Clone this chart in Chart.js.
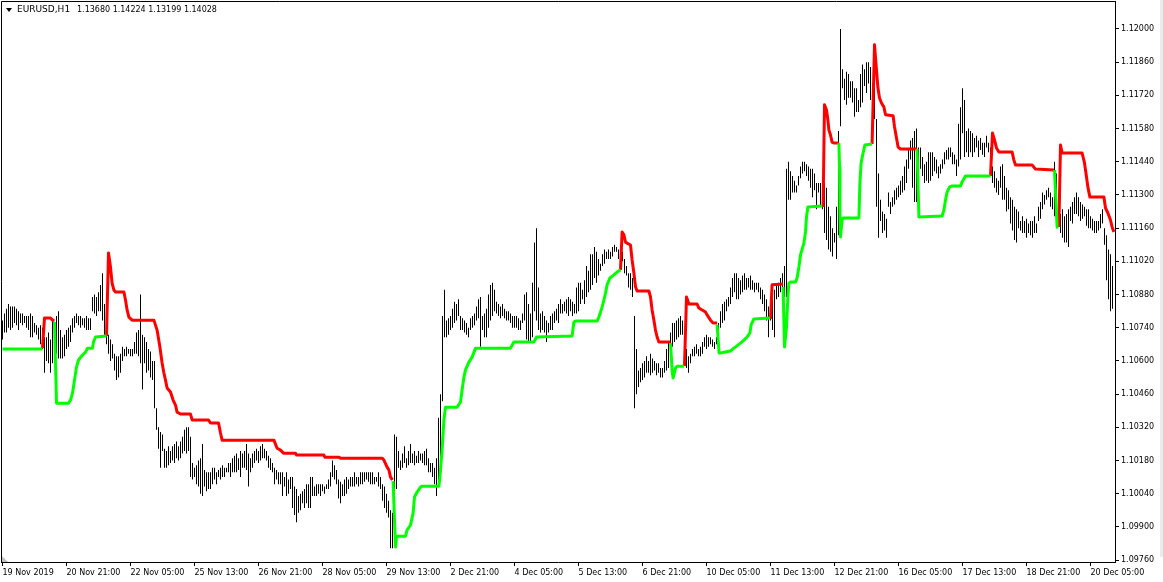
<!DOCTYPE html>
<html>
<head>
<meta charset="utf-8">
<script src="https://cdn.jsdelivr.net/npm/chart.js@4.4.1/dist/chart.umd.min.js"></script>
<style>
  body { margin: 0; background: #fff; }
  canvas { display: block; }
</style>
</head>
<body>
<canvas id="chart" width="1163" height="582"></canvas>
<script>
const symbolName = "EURUSD,H1";
const quoteText = "1.13680 1.14224 1.13199 1.14028";

const timeLabels = ["19 Nov 2019", "20 Nov 21:00", "22 Nov 05:00", "25 Nov 13:00", "26 Nov 21:00",
  "28 Nov 05:00", "29 Nov 13:00", "2 Dec 21:00", "4 Dec 05:00", "5 Dec 13:00", "6 Dec 21:00",
  "10 Dec 05:00", "11 Dec 13:00", "12 Dec 21:00", "16 Dec 05:00", "17 Dec 13:00", "18 Dec 21:00",
  "20 Dec 05:00"];
const barsPerLabel = 32;

const priceTicks = [1.0976, 1.0990, 1.1004, 1.1018, 1.1032, 1.1046, 1.1060, 1.1074, 1.1088,
  1.1102, 1.1116, 1.1130, 1.1144, 1.1158, 1.1172, 1.1186, 1.1200];

// H1 bars, high / low
const highs = [
  1.1077,1.1080,1.1082,1.1084,1.1083,1.1083,1.1083,1.1082,1.1081,1.1080,
  1.1080,1.1079,1.1079,1.1079,1.1080,1.1079,1.1076,1.1075,1.1074,1.1075,
  1.1074,1.1070,1.1070,1.1072,1.1069,1.1077,1.1073,1.1079,1.1081,1.1073,
  1.1070,1.1071,1.1073,1.1074,1.1075,1.1078,1.1079,1.1080,1.1079,1.1079,
  1.1078,1.1078,1.1079,1.1078,1.1078,1.1087,1.1088,1.1087,1.1089,1.1092,
  1.1097,1.1084,1.1084,1.1071,1.1069,1.1067,1.1063,1.1062,1.1062,1.1063,
  1.1066,1.1065,1.1066,1.1065,1.1065,1.1065,1.1068,1.1072,1.1073,1.1088,
  1.1071,1.1070,1.1068,1.1065,1.1064,1.1060,1.1060,1.1040,1.1032,1.1030,
  1.1029,1.1023,1.1022,1.1024,1.1022,1.1024,1.1025,1.1026,1.1024,1.1026,
  1.1028,1.1031,1.1032,1.1032,1.1028,1.1017,1.1015,1.1016,1.1018,1.1019,
  1.1025,1.1014,1.1013,1.1013,1.1013,1.1015,1.1015,1.1013,1.1014,1.1015,
  1.1016,1.1015,1.1015,1.1017,1.1017,1.1019,1.1020,1.1021,1.1019,1.1022,
  1.1021,1.1022,1.1025,1.1021,1.1019,1.1021,1.1022,1.1023,1.1022,1.1024,
  1.1025,1.1023,1.1022,1.1020,1.1019,1.1017,1.1015,1.1014,1.1013,1.1013,
  1.1013,1.1011,1.1013,1.1010,1.1011,1.1011,1.1007,1.1006,1.1003,1.1004,
  1.1005,1.1006,1.1008,1.1008,1.1011,1.1011,1.1007,1.1008,1.1008,1.1008,
  1.1008,1.1007,1.1008,1.1010,1.1013,1.1018,1.1016,1.1014,1.1010,1.1009,
  1.1008,1.1010,1.1011,1.1010,1.1011,1.1011,1.1013,1.1011,1.1011,1.1013,
  1.1013,1.1013,1.1013,1.1013,1.1013,1.1013,1.1011,1.1011,1.1013,1.1011,
  1.1008,1.1007,1.1004,1.1001,1.0997,1.0996,1.1029,1.1028,1.1022,1.1018,
  1.1021,1.1024,1.1019,1.1022,1.1025,1.1021,1.1022,1.1020,1.1022,1.1021,
  1.1021,1.1022,1.1023,1.1019,1.1017,1.1017,1.1015,1.1019,1.1036,1.1046,
  1.1079,1.1090,1.1077,1.1078,1.1079,1.1082,1.1085,1.1084,1.1086,1.1079,
  1.1078,1.1077,1.1076,1.1074,1.1078,1.1079,1.1080,1.1083,1.1086,1.1087,
  1.1079,1.1080,1.1082,1.1088,1.1092,1.1093,1.1090,1.1085,1.1084,1.1083,
  1.1084,1.1082,1.1081,1.1081,1.1080,1.1079,1.1079,1.1079,1.1078,1.1077,
  1.1080,1.1088,1.1089,1.1084,1.1080,1.1093,1.1110,1.1116,1.1091,1.1080,
  1.1081,1.1079,1.1077,1.1076,1.1079,1.1080,1.1081,1.1082,1.1084,1.1086,
  1.1084,1.1085,1.1086,1.1087,1.1086,1.1085,1.1084,1.1091,1.1093,1.1093,
  1.1090,1.1094,1.1100,1.1098,1.1105,1.1105,1.1108,1.1106,1.1103,1.1101,
  1.1105,1.1107,1.1106,1.1107,1.1106,1.1108,1.1109,1.1108,1.1107,1.1107,
  1.1106,1.1103,1.1100,1.1097,1.1097,1.1095,1.1079,1.1065,1.1056,1.1057,
  1.1059,1.1060,1.1062,1.1060,1.1063,1.1061,1.1060,1.1059,1.1059,1.1057,
  1.1057,1.1060,1.1065,1.1068,1.1072,1.1076,1.1076,1.1077,1.1078,1.1079,
  1.1077,1.1072,1.1065,1.1062,1.1063,1.1065,1.1066,1.1067,1.1065,1.1066,
  1.1068,1.1070,1.1071,1.1070,1.1070,1.1069,1.1068,1.1070,1.1076,1.1081,
  1.1084,1.1085,1.1086,1.1087,1.1091,1.1095,1.1097,1.1097,1.1095,1.1094,
  1.1096,1.1097,1.1095,1.1095,1.1096,1.1094,1.1093,1.1093,1.1093,1.1091,
  1.1090,1.1088,1.1086,1.1083,1.1081,1.1086,1.1090,1.1092,1.1093,1.1095,
  1.1097,1.1100,1.1141,1.1144,1.1140,1.1138,1.1136,1.1134,1.1138,1.1142,
  1.1144,1.1144,1.1143,1.1142,1.1141,1.1141,1.1139,1.1135,1.1135,1.1135,
  1.1136,1.1135,1.1133,1.1125,1.1121,1.1116,1.1114,1.1125,1.1157,1.1200,
  1.1183,1.1179,1.1182,1.1181,1.1178,1.1178,1.1175,1.1175,1.1170,1.1181,
  1.1185,1.1183,1.1186,1.1186,1.1184,1.1177,1.1183,1.1162,1.1139,1.1128,
  1.1123,1.1122,1.1120,1.1131,1.1127,1.1129,1.1132,1.1133,1.1134,1.1136,
  1.1138,1.1142,1.1145,1.1149,1.1153,1.1154,1.1157,1.1158,1.1150,1.1150,
  1.1146,1.1143,1.1144,1.1148,1.1148,1.1148,1.1146,1.1145,1.1142,1.1143,
  1.1145,1.1148,1.1149,1.1150,1.1150,1.1148,1.1147,1.1145,1.1160,1.1167,
  1.1175,1.1170,1.1157,1.1158,1.1157,1.1156,1.1154,1.1155,1.1153,1.1154,
  1.1152,1.1152,1.1155,1.1152,1.1150,1.1142,1.1140,1.1137,1.1136,1.1142,
  1.1143,1.1138,1.1133,1.1132,1.1129,1.1128,1.1125,1.1124,1.1123,1.1119,
  1.1121,1.1119,1.1120,1.1118,1.1119,1.1119,1.1121,1.1118,1.1125,1.1127,
  1.1131,1.1130,1.1132,1.1133,1.1131,1.1129,1.1144,1.1139,1.1124,1.1122,
  1.1124,1.1121,1.1122,1.1124,1.1125,1.1127,1.1129,1.1131,1.1129,1.1127,
  1.1126,1.1125,1.1124,1.1124,1.1121,1.1120,1.1119,1.1119,1.1119,1.1122,
  1.1124,1.1116,1.1113,1.1107,1.1105,1.1100
];
const lows = [
  1.1069,1.1072,1.1072,1.1074,1.1073,1.1074,1.1076,1.1075,1.1073,1.1076,
  1.1075,1.1076,1.1074,1.1073,1.1070,1.1070,1.1072,1.1071,1.1069,1.1067,
  1.1065,1.1055,1.1060,1.1059,1.1055,1.1059,1.1068,1.1063,1.1061,1.1061,
  1.1061,1.1062,1.1065,1.1066,1.1068,1.1072,1.1074,1.1076,1.1075,1.1074,
  1.1075,1.1074,1.1073,1.1073,1.1073,1.1081,1.1080,1.1079,1.1081,1.1081,
  1.1077,1.1071,1.1067,1.1063,1.1060,1.1061,1.1056,1.1052,1.1053,1.1055,
  1.1060,1.1062,1.1062,1.1063,1.1062,1.1062,1.1063,1.1063,1.1062,1.1059,
  1.1048,1.1059,1.1055,1.1056,1.1053,1.1052,1.1040,1.1031,1.1023,1.1015,
  1.1022,1.1015,1.1015,1.1016,1.1017,1.1018,1.1017,1.1019,1.1018,1.1019,
  1.1021,1.1022,1.1021,1.1022,1.1011,1.1010,1.1011,1.1008,1.1007,1.1004,
  1.1003,1.1007,1.1005,1.1006,1.1006,1.1008,1.1010,1.1008,1.1011,1.1010,
  1.1011,1.1011,1.1013,1.1013,1.1011,1.1013,1.1013,1.1013,1.1014,1.1011,
  1.1015,1.1015,1.1014,1.1007,1.1013,1.1015,1.1017,1.1018,1.1017,1.1018,
  1.1019,1.1019,1.1018,1.1015,1.1014,1.1013,1.1008,1.1010,1.1008,1.1008,
  1.1003,1.1007,1.1003,1.1004,1.1006,1.0998,1.0995,1.0992,1.0996,1.0997,
  1.1000,1.0998,1.1000,1.0998,1.0998,1.1003,1.1003,1.1003,1.1004,1.1003,
  1.1005,1.1004,1.1006,1.1006,1.1007,1.1011,1.1010,1.1008,1.1002,1.1000,
  1.1003,1.1003,1.1004,1.1006,1.1007,1.1007,1.1007,1.1008,1.1007,1.1008,
  1.1008,1.1009,1.1010,1.1009,1.1008,1.1008,1.1008,1.1009,1.1007,1.1006,
  1.1001,1.0998,1.0996,1.0994,1.0981,1.0981,1.1003,1.1006,1.1015,1.1014,
  1.1015,1.1017,1.1015,1.1016,1.1017,1.1017,1.1016,1.1017,1.1017,1.1018,
  1.1017,1.1016,1.1016,1.1013,1.1013,1.1011,1.1008,1.1003,1.1008,1.1011,
  1.1043,1.1070,1.1070,1.1071,1.1073,1.1074,1.1076,1.1077,1.1079,1.1073,
  1.1073,1.1072,1.1071,1.1070,1.1073,1.1074,1.1075,1.1077,1.1078,1.1066,
  1.1073,1.1070,1.1070,1.1074,1.1077,1.1079,1.1081,1.1080,1.1079,1.1078,
  1.1079,1.1078,1.1077,1.1077,1.1076,1.1074,1.1074,1.1074,1.1073,1.1073,
  1.1076,1.1077,1.1069,1.1068,1.1068,1.1070,1.1081,1.1077,1.1073,1.1072,
  1.1073,1.1072,1.1068,1.1072,1.1073,1.1073,1.1076,1.1077,1.1076,1.1080,
  1.1080,1.1081,1.1080,1.1079,1.1081,1.1079,1.1080,1.1080,1.1081,1.1084,
  1.1086,1.1084,1.1087,1.1089,1.1090,1.1092,1.1095,1.1093,1.1096,1.1098,
  1.1100,1.1101,1.1103,1.1103,1.1103,1.1104,1.1106,1.1106,1.1103,1.1102,
  1.1102,1.1097,1.1096,1.1091,1.1090,1.1087,1.1040,1.1046,1.1049,1.1051,
  1.1052,1.1053,1.1055,1.1055,1.1054,1.1055,1.1056,1.1054,1.1055,1.1053,
  1.1053,1.1055,1.1056,1.1057,1.1063,1.1066,1.1068,1.1069,1.1070,1.1071,
  1.1071,1.1063,1.1057,1.1055,1.1059,1.1062,1.1062,1.1063,1.1062,1.1062,
  1.1063,1.1066,1.1065,1.1066,1.1067,1.1066,1.1065,1.1067,1.1070,1.1074,
  1.1076,1.1077,1.1081,1.1083,1.1084,1.1087,1.1089,1.1086,1.1086,1.1088,
  1.1089,1.1090,1.1090,1.1091,1.1090,1.1090,1.1089,1.1090,1.1089,1.1086,
  1.1084,1.1081,1.1077,1.1070,1.1077,1.1073,1.1070,1.1086,1.1087,1.1089,
  1.1090,1.1087,1.1087,1.1128,1.1128,1.1131,1.1131,1.1131,1.1134,1.1137,
  1.1139,1.1140,1.1138,1.1136,1.1133,1.1129,1.1132,1.1124,1.1131,1.1125,
  1.1124,1.1114,1.1111,1.1107,1.1106,1.1104,1.1110,1.1103,1.1113,1.1159,
  1.1175,1.1170,1.1168,1.1171,1.1171,1.1169,1.1163,1.1165,1.1165,1.1167,
  1.1169,1.1176,1.1173,1.1177,1.1170,1.1167,1.1162,1.1125,1.1112,1.1119,
  1.1114,1.1115,1.1112,1.1125,1.1122,1.1125,1.1126,1.1128,1.1129,1.1130,
  1.1131,1.1132,1.1135,1.1141,1.1145,1.1133,1.1127,1.1127,1.1139,1.1141,
  1.1138,1.1135,1.1136,1.1135,1.1136,1.1138,1.1140,1.1139,1.1137,1.1139,
  1.1141,1.1143,1.1145,1.1145,1.1146,1.1143,1.1143,1.1138,1.1142,1.1145,
  1.1156,1.1146,1.1148,1.1146,1.1148,1.1146,1.1148,1.1150,1.1146,1.1149,
  1.1147,1.1146,1.1150,1.1148,1.1139,1.1135,1.1133,1.1131,1.1130,1.1133,
  1.1128,1.1128,1.1123,1.1124,1.1118,1.1115,1.1111,1.1110,1.1116,1.1115,
  1.1114,1.1114,1.1112,1.1114,1.1113,1.1112,1.1114,1.1114,1.1119,1.1120,
  1.1124,1.1126,1.1128,1.1129,1.1125,1.1124,1.1121,1.1116,1.1117,1.1114,
  1.1112,1.1110,1.1110,1.1108,1.1119,1.1118,1.1122,1.1122,1.1121,1.1119,
  1.1120,1.1121,1.1117,1.1116,1.1116,1.1115,1.1114,1.1114,1.1115,1.1116,
  1.1118,1.1109,1.1094,1.1086,1.1081,1.1082
];

// trailing stop, [bar, price]; green below price, red above
const sup1 = [[0,1.10650],[20,1.10650]];
const res1 = [[20,1.10654],[21,1.10781],[24,1.10781],[25,1.10772],[26,1.10772]];
const sup2 = [[26,1.10764],[27,1.10422],[33,1.10422],[34,1.10435],[35,1.10464],[36,1.10519],[37,1.10574],
  [38,1.10604],[40,1.10625],[41.5,1.10637],[42.5,1.10654],[45,1.10654],[45.5,1.10680],[46.5,1.10701],[52,1.10705]];
const res2 = [[52,1.10705],[53,1.11055],[54,1.10996],[54.8,1.10928],[55.7,1.10899],[56.5,1.10891],[60.7,1.10891],
  [61.5,1.10857],[62.3,1.10815],[63.2,1.10785],[64.8,1.10772],[75.7,1.10772],[77.3,1.10730],[78.7,1.10659],
  [79.8,1.10591],[80.7,1.10549],[81.5,1.10519],[82.3,1.10486],[84,1.10469],[85.3,1.10435],[86.5,1.10414],
  [87.3,1.10384],[89,1.10376],[94,1.10376],[94.8,1.10351],[103,1.10351],[104,1.10338],[108,1.10338],
  [109,1.10296],[109.8,1.10266],[135.7,1.10266],[137.3,1.10232],[139,1.10224],[140.5,1.10211],[146.5,1.10211],
  [147,1.10203],[160.7,1.10203],[161.2,1.10194],[168.2,1.10194],[169,1.10190],[189.8,1.10190],[190.7,1.10182],
  [192.3,1.10152],[193.2,1.10140],[194,1.10110],[195,1.10098]];
const sup3 = [[195.3,1.10093],[196.5,1.09815],[197,1.09861],[201.5,1.09861],[202.3,1.09887],[204,1.09908],
  [205.3,1.09958],[206,1.10026],[207.3,1.10047],[209,1.10068],[209.8,1.10072],[218.2,1.10072],[218.7,1.10110],
  [219.8,1.10224],[220.7,1.10351],[221.5,1.10405],[227.3,1.10405],[229,1.10427],[229.8,1.10477],[230.7,1.10532],
  [231.5,1.10562],[233.2,1.10595],[234.8,1.10616],[236.5,1.10654],[254,1.10654],[255.7,1.10680],[265.7,1.10680],
  [267,1.10701],[284.8,1.10705],[285.7,1.10764],[286.5,1.10768],[297.3,1.10768],[298.2,1.10785],[299,1.10806],
  [299.8,1.10827],[300.7,1.10857],[301.5,1.10886],[302.3,1.10921],[303.7,1.10950],[305.7,1.10963],
  [307.3,1.10975],[309,1.10984]];
const res3 = [[309,1.10984],[309.8,1.11144],[310.7,1.11132],[311.5,1.11101],[312.3,1.11097],[314,1.11089],
  [314.8,1.11026],[315.7,1.10971],[316.5,1.10913],[317.3,1.10895],[323.2,1.10895],[324,1.10870],[324.8,1.10815],
  [325.7,1.10772],[326.5,1.10730],[327.3,1.10701],[328.2,1.10680],[334,1.10680]];
const sup4 = [[334,1.10675],[334.8,1.10562],[335.3,1.10528],[336.5,1.10570],[337.3,1.10578],[340.7,1.10578]];
const res4 = [[341,1.10578],[342,1.10870],[343.2,1.10840],[347.3,1.10840],[348.2,1.10823],[349.8,1.10815],
  [351.5,1.10806],[352.3,1.10794],[354,1.10772],[355.3,1.10760],[357.3,1.10760]];
const sup5 = [[357.3,1.10752],[358.3,1.10633],[359,1.10633],[360.7,1.10637],[364,1.10642],[365.7,1.10654],
  [369,1.10675],[370.7,1.10688],[372.3,1.10701],[373.7,1.10718],[374.3,1.10752],[375.7,1.10777],[383.7,1.10781]];
const res5 = [[384,1.10777],[384.8,1.10921],[390.3,1.10924]];
const sup6 = [[390.3,1.10913],[391,1.10659],[392,1.10743],[392.7,1.10870],[393.2,1.10928],[394,1.10933],
  [396.5,1.10933],[397.3,1.10950],[398.2,1.10996],[399,1.11047],[400.7,1.11097],[401.5,1.11144],[402,1.11207],
  [402.7,1.11249],[409.8,1.11253]];
const res6 = [[410.3,1.11249],[411,1.11680],[412,1.11658],[412.7,1.11616],[413.2,1.11574],[414,1.11553],
  [414.8,1.11523],[415.7,1.11519],[418.2,1.11519]];
const sup7 = [[418.2,1.11519],[418.5,1.11418],[418.7,1.11224],[419,1.11123],[419.8,1.11194],[420.3,1.11203],
  [428.2,1.11203],[428.7,1.11350],[429.3,1.11435],[430.3,1.11477],[431.2,1.11511],[434.8,1.11515]];
const res7 = [[434.8,1.11515],[436,1.11933],[437,1.11827],[437.7,1.11753],[438.5,1.11709],[439.5,1.11688],
  [440.7,1.11671],[441.5,1.11638],[445.3,1.11634],[446,1.11588],[447,1.11540],[447.8,1.11502],[449,1.11494],
  [457.3,1.11494]];
const sup8 = [[457.3,1.11494],[458.2,1.11207],[469.8,1.11211],[470.7,1.11236],[471.5,1.11279],[472.3,1.11312],
  [473.5,1.11333],[474.8,1.11338],[479,1.11338],[479.8,1.11355],[481.5,1.11380],[494,1.11380]];
const res8 = [[494,1.11380],[495,1.11561],[496,1.11532],[497,1.11498],[498.2,1.11481],[504.8,1.11481],
  [505.7,1.11447],[506.5,1.11426],[514.8,1.11426],[516.5,1.11409],[525.7,1.11405]];
const sup9 = [[526,1.11405],[527.3,1.11165],[528,1.11165]];
const res9 = [[528.2,1.11165],[529,1.11511],[529.8,1.11477],[539.8,1.11477],[541,1.11435],[542,1.11376],
  [542.7,1.11333],[543.7,1.11291],[550.7,1.11291],[551.5,1.11245],[552.7,1.11224],[554,1.11194],
  [554.8,1.11165],[555.7,1.11144]];

const supportParts = [sup1, sup2, sup3, sup4, sup5, sup6, sup7, sup8, sup9];
const resistParts = [res1, res2, res3, res4, res5, res6, res7, res8, res9];

const axisFont = { family: "DejaVu Sans", size: 8 };

function lineSet(points, color) {
  return {
    type: "line",
    data: points.map(([x, y]) => ({ x, y })),
    borderColor: color,
    borderWidth: 3,
    borderJoinStyle: "round",
    pointRadius: 0,
    tension: 0,
    fill: false,
    order: 1
  };
}

const frame = {
  id: "frame",
  beforeDraw(chart) {
    const ctx = chart.ctx;
    ctx.save();
    ctx.fillStyle = "#fff";
    ctx.fillRect(0, 0, chart.width, chart.height);
    ctx.fillStyle = "#ececec";
    ctx.fillRect(1160, 0, 3, 557);
    ctx.restore();
  },
  afterDraw(chart) {
    const { ctx, chartArea: a } = chart;
    ctx.save();
    ctx.strokeStyle = "#000";
    ctx.lineWidth = 1;
    ctx.beginPath();
    ctx.moveTo(a.left + 0.5, a.bottom);
    ctx.lineTo(a.left + 0.5, a.top + 0.5);
    ctx.lineTo(a.right, a.top + 0.5);
    ctx.stroke();

    // corner marker
    ctx.fillStyle = "#c0c0c0";
    ctx.beginPath();
    ctx.moveTo(a.left + 1, a.bottom - 6);
    ctx.lineTo(a.left + 1, a.bottom);
    ctx.lineTo(a.left + 7, a.bottom);
    ctx.closePath();
    ctx.fill();

    // header
    ctx.fillStyle = "#000";
    ctx.beginPath();
    ctx.moveTo(6, 8);
    ctx.lineTo(12, 8);
    ctx.lineTo(9, 12);
    ctx.closePath();
    ctx.fill();
    ctx.textBaseline = "middle";
    ctx.font = "9px 'DejaVu Sans'";
    ctx.fillText(symbolName, 17, 10);
    ctx.font = "8px 'DejaVu Sans'";
    ctx.fillText(quoteText, 77, 10);
    ctx.restore();
  }
};

new Chart(document.getElementById("chart"), {
  type: "bar",
  data: {
    datasets: [
      ...supportParts.map(p => lineSet(p, "#00ff00")),
      ...resistParts.map(p => lineSet(p, "#ff0000")),
      {
        type: "bar",
        data: highs.map((h, i) => ({ x: i, y: [lows[i], h] })),
        backgroundColor: "#000",
        borderWidth: 0,
        barThickness: 1,
        inflateAmount: 0,
        order: 2
      }
    ]
  },
  options: {
    responsive: false,
    animation: false,
    devicePixelRatio: 1,
    layout: { padding: { left: 1, top: 1, right: 0, bottom: 0 }, autoPadding: false },
    plugins: { legend: { display: false }, tooltip: { enabled: false } },
    scales: {
      x: {
        type: "linear",
        min: -0.75,
        max: 556.25,
        offset: false,
        grid: { drawOnChartArea: false, offset: false, tickLength: 4, color: "#000" },
        border: { color: "#000" },
        ticks: {
          font: axisFont, color: "#000", align: "start", padding: 2,
          autoSkip: false, maxRotation: 0, minRotation: 0,
          callback: (v, i) => timeLabels[i]
        },
        afterBuildTicks: s => { s.ticks = timeLabels.map((_, k) => ({ value: k * barsPerLabel })); },
        afterFit: s => { s.height = 20; s.paddingLeft = 0; s.paddingRight = 0; }
      },
      y: {
        position: "right",
        min: 1.09752,
        max: 1.12118,
        grid: { drawOnChartArea: false, tickLength: 4, color: "#000" },
        border: { color: "#000" },
        ticks: { font: axisFont, color: "#000", padding: 2, callback: v => v.toFixed(5) },
        afterBuildTicks: s => { s.ticks = priceTicks.map(v => ({ value: v })); },
        afterFit: s => { s.width = 48; s.paddingTop = 0; s.paddingBottom = 0; }
      }
    }
  },
  plugins: [frame]
});
</script>
</body>
</html>
